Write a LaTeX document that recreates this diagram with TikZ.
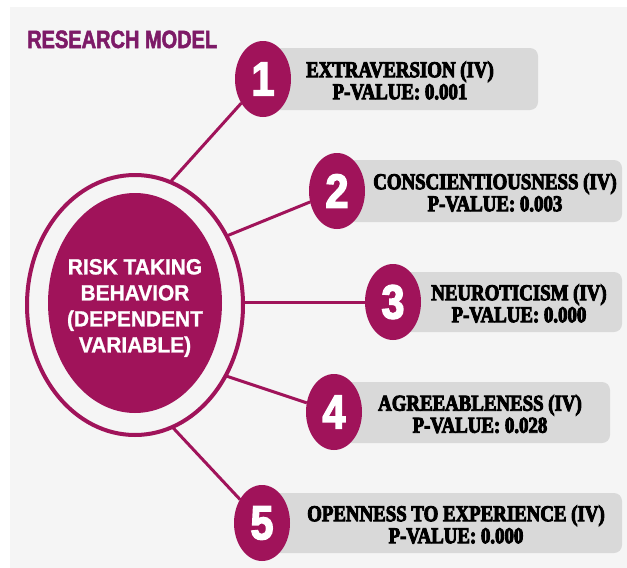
\documentclass[tikz,border=0pt]{standalone}
\usepackage{fontspec}
\usetikzlibrary{shapes.geometric}
\newfontfamily\labelfont[FakeStretch=0.83,FakeBold=4]{Liberation Serif Bold}
\newfontfamily\corefont[FakeStretch=0.95,FakeBold=1]{Liberation Sans Bold}
\newfontfamily\titlefont[FakeStretch=0.8,FakeBold=2]{Liberation Sans Bold}
\newfontfamily\digitfont[FakeStretch=0.86,FakeBold=3]{Liberation Sans Bold}
\definecolor{panelgray}{HTML}{F5F5F5}
\definecolor{bargray}{HTML}{D9D9D9}
\definecolor{plum}{HTML}{A0135A}
\definecolor{titleplum}{HTML}{7D1A67}
\begin{document}
\begin{tikzpicture}[x=1pt,y=-1pt,
  ring/.style={ellipse,draw=plum,line width=4pt,inner sep=0pt,outer sep=0pt,
    minimum width=216pt,minimum height=260pt},
  core/.style={ellipse,fill=plum,inner sep=0pt,outer sep=0pt,
    minimum width=174pt,minimum height=220pt},
  corelabel/.style={text=white,align=center,inner sep=0pt,
    font=\corefont\fontsize{22}{26}\selectfont},
  bar/.style={rectangle,rounded corners=8pt,fill=bargray,inner sep=0pt},
  num/.style={ellipse,fill=plum,text=white,inner sep=0pt,outer sep=0pt,
    minimum width=56pt,minimum height=76pt,
    font=\digitfont\fontsize{48}{48}\selectfont},
  barlabel/.style={text=black,align=center,inner sep=0pt,
    font=\labelfont\fontsize{22.7}{22}\selectfont},
  link/.style={draw=plum,line width=3pt},
  heading/.style={text=titleplum,inner sep=0pt,anchor=base west,
    font=\titlefont\fontsize{25}{25}\selectfont}]
\useasboundingbox (0,0) rectangle (627,568);
% page panel
\fill[panelgray] (10,7) rectangle (627,568);

\node[heading] (title) at (27,48) {RESEARCH MODEL};

% central variable
\node[ring] (outer) at (135,305) {};
\node[core] (core) at (135,303) {};
\node[corelabel] (corelabel) at (135,308) {RISK TAKING\\BEHAVIOR\\(DEPENDENT\\VARIABLE)};

% grey bars behind the numbered circles
\node[bar,minimum width=275pt,minimum height=62pt] (b1) at (400.5,79) {};
\node[bar,minimum width=285pt,minimum height=62pt] (b2) at (479.5,191) {};
\node[bar,minimum width=229pt,minimum height=60pt] (b3) at (507.5,302) {};
\node[bar,minimum width=276pt,minimum height=61pt] (b4) at (472,412.5) {};
\node[bar,minimum width=360pt,minimum height=60pt] (b5) at (442,523) {};

% numbered circles
\node[num] (c1) at (263,79) {1};
\node[num] (c2) at (337,191) {2};
\node[num] (c3) at (393,302) {3};
\node[num] (c4) at (334,412) {4};
\node[num] (c5) at (262,523) {5};

% independent variables
\node[barlabel] (t1) at (400,80.5) {EXTRAVERSION (IV)\\P-VALUE: 0.001};
\node[barlabel] (t2) at (495,192.5) {CONSCIENTIOUSNESS (IV)\\P-VALUE: 0.003};
\node[barlabel] (t3) at (519,303.5) {NEUROTICISM (IV)\\P-VALUE: 0.000};
\node[barlabel] (t4) at (480,414) {AGREEABLENESS (IV)\\P-VALUE: 0.028};
\node[barlabel] (t5) at (456,524.5) {OPENNESS TO EXPERIENCE (IV)\\P-VALUE: 0.000};

% connectors
\draw[link] (outer.74) -- (c1);
\draw[link] (outer.37) -- (c2);
\draw[link] (outer.east |- c3) -- (c3);
\draw[link] (outer.-38) -- (c4);
\draw[link] (outer.-73) -- (c5);
\end{tikzpicture}
\end{document}
